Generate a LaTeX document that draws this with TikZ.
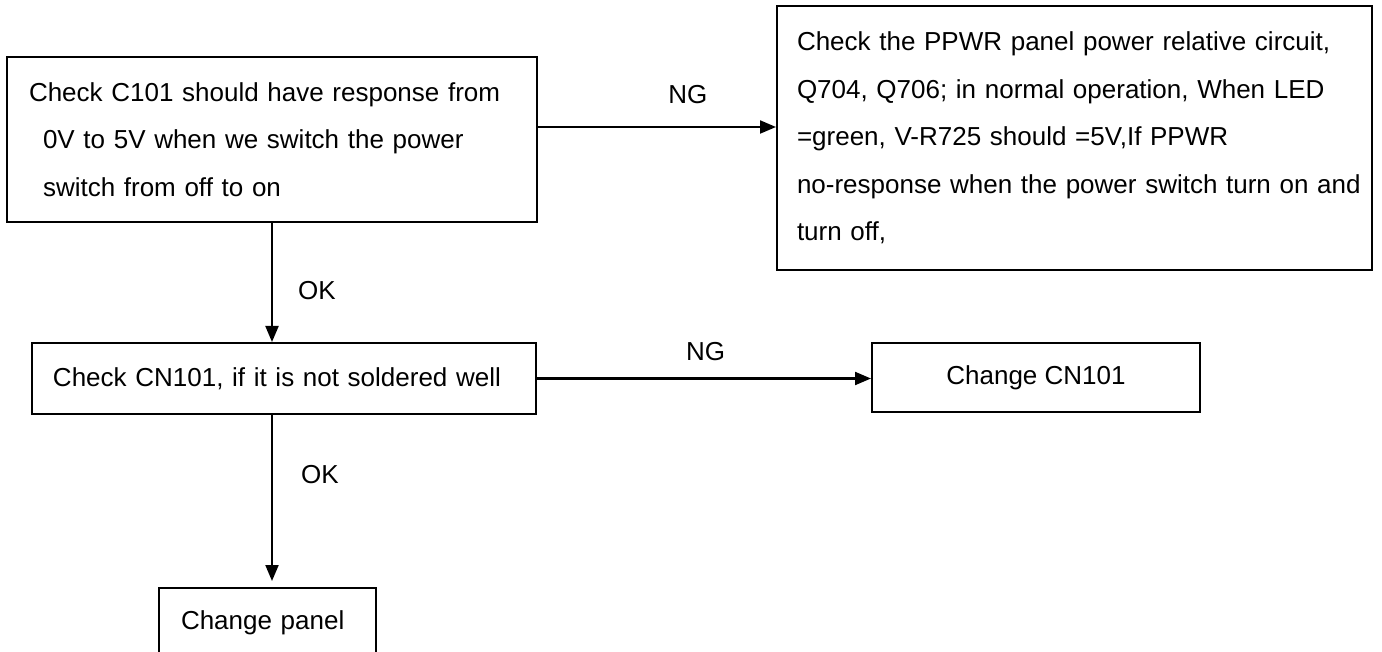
\documentclass[tikz,border=0pt]{standalone}
\usepackage{fontspec}
\setmainfont{Liberation Sans}
\usetikzlibrary{arrows.meta}

\tikzset{
  box/.style={draw, line width=1pt, align=left, inner ysep=0pt,
    font=\fontsize{13}{23.75}\selectfont},
  arrow/.style={line width=1pt, -{Triangle[length=8pt,width=6.5pt]}},
  lbl/.style={font=\fontsize{13}{16}\selectfont, inner sep=0pt}
}

\begin{document}
\begin{tikzpicture}[x=0.5pt,y=-0.5pt]
\useasboundingbox[fill=white] (0,0) rectangle (1382,652);
% boxes
\node[box, text width=243pt, inner xsep=11pt, minimum height=82.5pt] (c101) at (272,139.5)
  {Check C101 should have response from\\
   \hspace*{7pt}0V to 5V when we switch the power\\
   \hspace*{7pt}switch from off to on};
\node[box, text width=277.5pt, inner xsep=10pt, minimum height=132pt] (ppwr) at (1074.5,138)
  {Check the PPWR panel power relative circuit,\\
   Q704, Q706; in normal operation, When LED\\
   =green, V-R725 should =5V,If PPWR\\
   \mbox{no-response when the power switch turn on and}\\
   turn off,};
\node[box, text width=231pt, inner xsep=10.5pt, minimum height=35.5pt] (cn101) at (284,378.5)
  {Check CN101, if it is not soldered well};
\node[box, align=center, minimum width=164pt, minimum height=34.5pt] (chcn) at (1036,377.5)
  {Change CN101};
\node[box, text width=86.5pt, inner xsep=11pt, minimum height=35pt] (panel) at (267.5,623)
  {Change panel};
% connectors
\coordinate (ng1) at ([yshift=6.25pt]c101.east);
\draw[arrow] (ng1) -- (ng1 -| ppwr.west) node[lbl, pos=0.63, yshift=16pt] {NG};
\draw[arrow] (c101.south) -- (c101.south |- cn101.north) node[lbl, pos=0.57, xshift=22.5pt] {OK};
\draw[arrow] (cn101.east) -- (cn101.east -| chcn.west) node[lbl, pos=0.505, yshift=13.5pt] {NG};
\draw[arrow, shorten >=3pt] (c101.south |- cn101.south) -- (c101.south |- panel.north)
  node[lbl, pos=0.345, xshift=24pt] {OK};
\end{tikzpicture}
\end{document}
